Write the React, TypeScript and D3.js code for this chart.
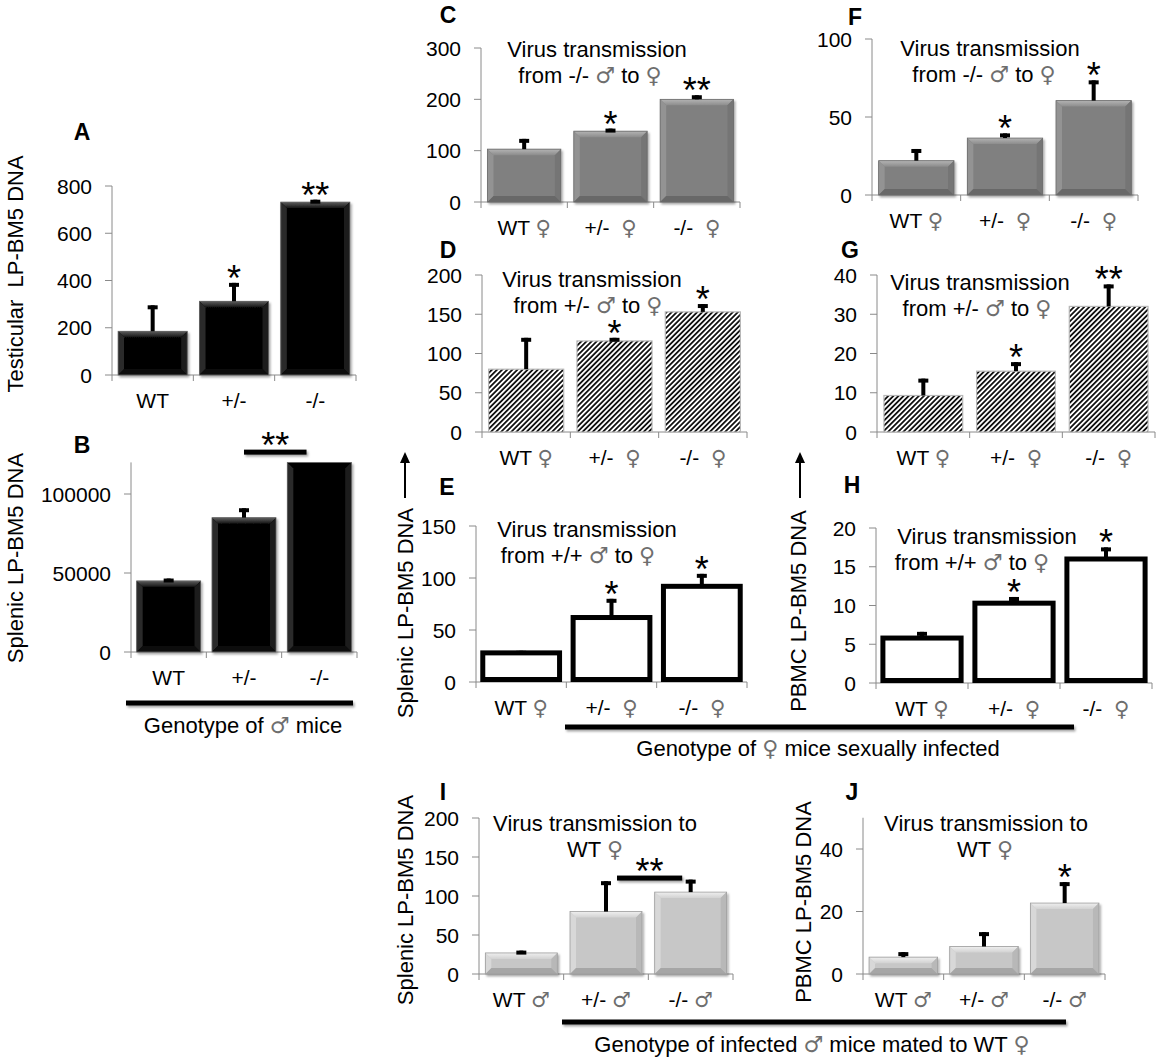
import React from "react";
import * as d3 from "d3";

const FONT = "'Liberation Sans', Arial, Helvetica, sans-serif";
const SYMFONT = "'DejaVu Sans', 'Noto Sans', sans-serif";

// ---------- categories ----------
const catsMale = ["WT", "+/-", "-/-"];
const catsFemale = ["WT ♀", "+/-  ♀", "-/-  ♀"];
const catsMated = ["WT ♂", "+/- ♂", "-/- ♂"];

// ---------- data (mean, error) ----------
const valuesA = [185, 312, 732];
const errorsA = [110, 78, 10];
const starsA = ["", "*", "**"];
const ticksA = [0, 200, 400, 600, 800];

const valuesB = [45000, 85000, 120000];
const errorsB = [1500, 6000, 0];
const starsB = ["", "", ""];
const ticksB = [0, 50000, 100000];

const valuesC = [103, 138, 200];
const errorsC = [20, 5, 8];
const starsC = ["", "*", "**"];
const ticksC = [0, 100, 200, 300];

const valuesD = [80, 116, 153];
const errorsD = [40, 4, 10];
const starsD = ["", "*", "*"];
const ticksD = [0, 50, 100, 150, 200];

const valuesE = [28, 62, 92];
const errorsE = [2, 18, 12];
const starsE = ["", "*", "*"];
const ticksE = [0, 50, 100, 150];

const valuesF = [22, 36.5, 60.5];
const errorsF = [7.5, 3, 13];
const starsF = ["", "*", "*"];
const ticksF = [0, 50, 100];

const valuesG = [9.3, 15.5, 32];
const errorsG = [4.3, 2.3, 5.6];
const starsG = ["", "*", "**"];
const ticksG = [0, 10, 20, 30, 40];

const valuesH = [5.8, 10.3, 16];
const errorsH = [0.8, 0.8, 1.5];
const starsH = ["", "*", "*"];
const ticksH = [0, 5, 10, 15, 20];

const valuesI = [27, 80, 105];
const errorsI = [3, 39, 16];
const starsI = ["", "", ""];
const ticksI = [0, 50, 100, 150, 200];

const valuesJ = [5.4, 8.8, 22.7];
const errorsJ = [1.6, 4.6, 6.7];
const starsJ = ["", "", "*"];
const ticksJ = [0, 20, 40];

// ---------- texts ----------
const titleC = ["Virus transmission", "from -/- ♂ to ♀"];
const titleD = ["Virus transmission", "from +/- ♂ to ♀"];
const titleE = ["Virus transmission", "from +/+ ♂ to ♀"];
const titleI = ["Virus transmission to", "WT ♀"];
const yTitleTesticular = "Testicular  LP-BM5 DNA";
const yTitleSplenic = "Splenic LP-BM5 DNA";
const yTitlePBMC = "PBMC LP-BM5 DNA";
const footerMale = "Genotype of ♂ mice";
const footerFemale = "Genotype of ♀ mice sexually infected";
const footerMated = "Genotype of infected ♂ mice mated to WT ♀";

// ---------- layout ----------
const panels: any[] = [
  { key: "A", letter: "A", lx: 82, ly: 140, cats: catsMale, values: valuesA, errors: errorsA, stars: starsA, ticks: ticksA, yMax: 800,
    x0: 112, x1: 356, y0: 375, y1: 186, style: "black", yTitle: yTitleTesticular, ytx: 15, yty: 274 },
  { key: "B", letter: "B", lx: 82, ly: 453, cats: catsMale, values: valuesB, errors: errorsB, stars: starsB, ticks: ticksB, yMax: 120000,
    x0: 131, x1: 357, y0: 652, y1: 462.4, style: "black", yTitle: yTitleSplenic, ytx: 15, yty: 558,
    sig: { from: 1, to: 2, level: 126500, label: "**", d1: 0, d2: -0.17 } },
  { key: "C", letter: "C", lx: 448, ly: 23, cats: catsFemale, values: valuesC, errors: errorsC, stars: starsC, ticks: ticksC, yMax: 300,
    x0: 481, x1: 740, y0: 202, y1: 48, style: "gray", title: titleC, tx: [597, 590], ty: 57 },
  { key: "D", letter: "D", lx: 448, ly: 258, cats: catsFemale, values: valuesD, errors: errorsD, stars: starsD, ticks: ticksD, yMax: 200,
    x0: 482, x1: 747, y0: 432, y1: 275, style: "hatch", title: titleD, tx: [592, 588], ty: 287 },
  { key: "E", letter: "E", lx: 447, ly: 495, cats: catsFemale, values: valuesE, errors: errorsE, stars: starsE, ticks: ticksE, yMax: 150,
    x0: 476, x1: 747, y0: 682, y1: 526, style: "outline", title: titleE, tx: [587, 578], ty: 537,
    yTitle: yTitleSplenic, ytx: 405, yty: 613 },
  { key: "F", letter: "F", lx: 855, ly: 25, cats: catsFemale, values: valuesF, errors: errorsF, stars: starsF, ticks: ticksF, yMax: 100,
    x0: 872, x1: 1138, y0: 195, y1: 39, style: "gray", title: titleC, tx: [990, 984], ty: 56 },
  { key: "G", letter: "G", lx: 850, ly: 258, cats: catsFemale, values: valuesG, errors: errorsG, stars: starsG, ticks: ticksG, yMax: 40,
    x0: 877, x1: 1155, y0: 432, y1: 275, style: "hatch", title: titleD, tx: [980, 977], ty: 290 },
  { key: "H", letter: "H", lx: 852, ly: 493, cats: catsFemale, values: valuesH, errors: errorsH, stars: starsH, ticks: ticksH, yMax: 20,
    x0: 876, x1: 1152, y0: 683, y1: 528, style: "outline", title: titleE, tx: [987, 972], ty: 544,
    yTitle: yTitlePBMC, ytx: 798, yty: 611 },
  { key: "I", letter: "I", lx: 443, ly: 800, cats: catsMated, values: valuesI, errors: errorsI, stars: starsI, ticks: ticksI, yMax: 200,
    x0: 479, x1: 733, y0: 974, y1: 818, style: "light", title: titleI, tx: [595, 595], ty: 831,
    yTitle: yTitleSplenic, ytx: 405, yty: 900,
    sig: { from: 1, to: 2, level: 123, label: "**", d1: 0.13, d2: -0.1 } },
  { key: "J", letter: "J", lx: 852, ly: 800, cats: catsMated, values: valuesJ, errors: errorsJ, stars: starsJ, ticks: ticksJ, yMax: 50,
    x0: 863, x1: 1105, y0: 974, y1: 817.75, style: "light", title: titleI, tx: [986, 985], ty: 831,
    yTitle: yTitlePBMC, ytx: 803, yty: 902 },
];

const footers = [
  { text: footerMale, x1: 126, x2: 353, y: 703, tx: 243, ty: 733 },
  { text: footerFemale, x1: 565, x2: 1074, y: 727, tx: 818, ty: 756 },
  { text: footerMated, x1: 562, x2: 1066, y: 1022, tx: 812, ty: 1052 },
];

const arrows = [
  { x: 405, top: 452, bottom: 498 },
  { x: 800, top: 452, bottom: 498 },
];

const bevelColors: any = {
  black: { base: "#020202", top: ["#5e5e5e", "#141414"], left: "#2a2a2a", right: "#1c1c1c", bottom: "#0a0a0a", stroke: "#6a6a6a" },
  gray: { base: "#808080", top: ["#b4b4b4", "#8c8c8c"], left: "#939393", right: "#747474", bottom: "#686868", stroke: "#6c6c6c" },
  light: { base: "#c7c7c7", top: ["#efefef", "#d2d2d2"], left: "#d8d8d8", right: "#b8b8b8", bottom: "#a6a6a6", stroke: "#9e9e9e" },
};

// Render text with gender symbols in a font that has them
function Rich({ text }: any) {
  const parts = String(text).split(/([♀♂])/);
  return (
    <>
      {parts.map((s: string, i: number) =>
        s === "♀" || s === "♂" ? (
          <tspan key={i} fontFamily={SYMFONT} fill="#6e6e6e">{s}</tspan>
        ) : (
          <tspan key={i}>{s}</tspan>
        )
      )}
    </>
  );
}

function ThickLine({ x1, x2, y }: any) {
  return <rect x={x1} y={y - 2.5} width={x2 - x1} height={5} fill="#000" filter="url(#shadow)" />;
}

function BevelBar({ x, y, w, h, style, clipTop }: any) {
  const c = bevelColors[style];
  const b = Math.min(6, h / 2, w / 2);
  const gid = `grad-${style}`;
  return (
    <g filter="url(#shadow)">
      <rect x={x} y={y} width={w} height={h} fill={c.base} />
      {!clipTop && (
        <polygon points={`${x},${y} ${x + w},${y} ${x + w - b},${y + b} ${x + b},${y + b}`} fill={`url(#${gid})`} />
      )}
      <polygon points={`${x},${y} ${x + b},${y + b} ${x + b},${y + h - b} ${x},${y + h}`} fill={c.left} />
      <polygon points={`${x + w},${y} ${x + w},${y + h} ${x + w - b},${y + h - b} ${x + w - b},${y + b}`} fill={c.right} />
      <polygon points={`${x},${y + h} ${x + b},${y + h - b} ${x + w - b},${y + h - b} ${x + w},${y + h}`} fill={c.bottom} />
      <rect x={x} y={y} width={w} height={h} fill="none" stroke={c.stroke} strokeWidth={0.8} />
    </g>
  );
}

function Panel({ p }: any) {
  const x = d3.scaleBand().domain(p.cats).range([p.x0, p.x1]).paddingInner(0.15).paddingOuter(0.075);
  const y = d3.scaleLinear().domain([0, p.yMax]).range([p.y0, p.y1]);
  const step = x.step();
  const bw = x.bandwidth();
  const bounds = d3.range(p.cats.length + 1).map((i) => p.x0 + i * step);

  return (
    <g>
      <text x={p.lx} y={p.ly} fontSize={23} fontWeight="bold" textAnchor="middle">{p.letter}</text>

      {/* axes */}
      <line x1={p.x0} x2={p.x0} y1={y(p.yMax)} y2={p.y0} stroke="#8a8a8a" strokeWidth={1} />
      <line x1={p.x0} x2={p.x1} y1={p.y0} y2={p.y0} stroke="#8a8a8a" strokeWidth={1} />
      {p.ticks.map((t: number) => (
        <g key={t}>
          <line x1={p.x0 - 7} x2={p.x0} y1={y(t)} y2={y(t)} stroke="#8a8a8a" />
          <text x={p.x0 - 20} y={y(t)} dy="0.36em" fontSize={21} textAnchor="end">{String(t)}</text>
        </g>
      ))}
      {bounds.map((bx: number, i: number) => (
        <line key={i} x1={bx} x2={bx} y1={p.y0} y2={p.y0 + 6} stroke="#8a8a8a" />
      ))}

      {/* title */}
      {p.title && p.title.map((t: string, i: number) => (
        <text key={i} x={p.tx[i]} y={p.ty + i * 26} fontSize={22} textAnchor="middle" style={{ whiteSpace: "pre" }}>
          <Rich text={t} />
        </text>
      ))}

      {/* bars */}
      {p.cats.map((c: string, i: number) => {
        const v = p.values[i];
        const bx = x(c) as number;
        const top = y(v);
        const h = p.y0 - top;
        if (p.style === "hatch") {
          return <rect key={c} x={bx} y={top} width={bw} height={h} fill="url(#hatch)" stroke="#b8b8b8" strokeWidth={1.2} />;
        }
        if (p.style === "outline") {
          return <rect key={c} x={bx} y={top} width={bw} height={h - 2.5} fill="#fff" stroke="#000" strokeWidth={5} />;
        }
        return <BevelBar key={c} x={bx} y={top} w={bw} h={h} style={p.style} clipTop={v >= p.yMax} />;
      })}

      {/* error bars */}
      {p.cats.map((c: string, i: number) => {
        const e = p.errors[i];
        if (!e) return null;
        const cx = (x(c) as number) + bw / 2;
        const top = y(p.values[i] + e);
        const base = y(p.values[i]);
        return (
          <g key={c}>
            <rect x={cx - 2} y={top} width={4} height={base - top} fill="#000" />
            <rect x={cx - 5} y={top} width={10} height={4} fill="#000" />
          </g>
        );
      })}

      {/* stars */}
      {p.cats.map((c: string, i: number) => {
        const s = p.stars[i];
        if (!s) return null;
        const cx = (x(c) as number) + bw / 2;
        const top = y(p.values[i] + (p.errors[i] || 0));
        return <text key={c} x={cx} y={top + 8} fontSize={36} textAnchor="middle">{s}</text>;
      })}

      {/* significance bracket */}
      {p.sig && (() => {
        const xa = (x(p.cats[p.sig.from]) as number) + bw / 2 + p.sig.d1 * step;
        const xb = (x(p.cats[p.sig.to]) as number) + bw / 2 + p.sig.d2 * step;
        const ly = y(p.sig.level);
        return (
          <g>
            <ThickLine x1={xa} x2={xb} y={ly} />
            <text x={(xa + xb) / 2} y={ly + 6} fontSize={36} textAnchor="middle">{p.sig.label}</text>
          </g>
        );
      })()}

      {/* category labels */}
      {p.cats.map((c: string) => (
        <text key={c} x={(x(c) as number) + bw / 2} y={p.y0 + 33} fontSize={21} textAnchor="middle" style={{ whiteSpace: "pre" }}>
          <Rich text={c} />
        </text>
      ))}

      {/* y title */}
      {p.yTitle && (
        <text transform={`translate(${p.ytx},${p.yty}) rotate(-90)`} fontSize={22} textAnchor="middle" dy="0.36em" style={{ whiteSpace: "pre" }}>
          {p.yTitle}
        </text>
      )}
    </g>
  );
}

export default function App() {
  return (
    <svg
      width={1157}
      height={1061}
      viewBox="0 0 1157 1061"
      style={{ position: "absolute", left: 0, top: 0, background: "#fff" }}
      fontFamily={FONT}
    >
      <defs>
        <pattern id="hatch" patternUnits="userSpaceOnUse" width={3.6} height={10} patternTransform="rotate(45)">
          <rect width={3.6} height={10} fill="#fff" />
          <rect width={1.8} height={10} fill="#111" />
        </pattern>
        <filter id="shadow" x="-10%" y="-50%" width="130%" height="250%">
          <feDropShadow dx={1.5} dy={2} stdDeviation={1.2} floodColor="#000" floodOpacity={0.35} />
        </filter>
        {Object.keys(bevelColors).map((k) => (
          <linearGradient key={k} id={`grad-${k}`} x1="0" y1="0" x2="0" y2="1">
            <stop offset="0" stopColor={bevelColors[k].top[0]} />
            <stop offset="1" stopColor={bevelColors[k].top[1]} />
          </linearGradient>
        ))}
      </defs>
      <rect width={1157} height={1061} fill="#fff" />

      {panels.map((p) => (
        <Panel key={p.key} p={p} />
      ))}

      {arrows.map((a, i) => (
        <g key={i}>
          <line x1={a.x} x2={a.x} y1={a.top + 8} y2={a.bottom} stroke="#000" strokeWidth={2} />
          <polygon points={`${a.x},${a.top} ${a.x - 5},${a.top + 11} ${a.x + 5},${a.top + 11}`} fill="#000" />
        </g>
      ))}

      {footers.map((f, i) => (
        <g key={i}>
          <ThickLine x1={f.x1} x2={f.x2} y={f.y} />
          <text x={f.tx} y={f.ty} fontSize={22} textAnchor="middle" style={{ whiteSpace: "pre" }}>
            <Rich text={f.text} />
          </text>
        </g>
      ))}
    </svg>
  );
}
